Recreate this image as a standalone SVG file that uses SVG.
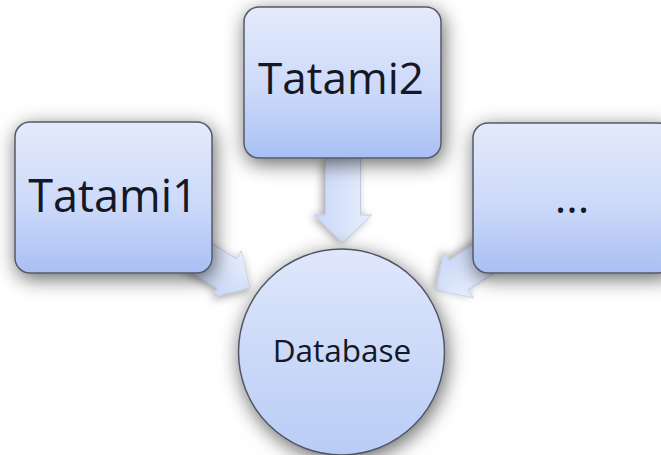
<svg xmlns="http://www.w3.org/2000/svg" width="661" height="455" viewBox="0 0 661 455">
  <defs>
    <linearGradient id="boxGrad" x1="0" y1="0" x2="0" y2="1">
      <stop offset="0" stop-color="#e4eafb"/>
      <stop offset="0.55" stop-color="#ccd9f9"/>
      <stop offset="1" stop-color="#a9bff4"/>
    </linearGradient>
    <linearGradient id="circGrad" x1="0" y1="0" x2="0" y2="1">
      <stop offset="0" stop-color="#dfe7fb"/>
      <stop offset="1" stop-color="#b9ccf6"/>
    </linearGradient>
    <linearGradient id="arrowGrad" x1="0" y1="0" x2="0" y2="1">
      <stop offset="0" stop-color="#e8eefc"/>
      <stop offset="1" stop-color="#c9d7f8"/>
    </linearGradient>
    <filter id="shadow" x="-40%" y="-40%" width="180%" height="180%">
      <feDropShadow dx="2" dy="5" stdDeviation="10" flood-color="#000" flood-opacity="0.6"/>
    </filter>
    <filter id="ashadow" x="-30%" y="-30%" width="160%" height="160%">
      <feDropShadow dx="1" dy="3" stdDeviation="4" flood-color="#000" flood-opacity="0.35"/>
    </filter>
  </defs>
  <style>
    .box { fill: url(#boxGrad); stroke: #545a6a; stroke-width: 1.5; filter: url(#shadow); }
    .circ { fill: url(#circGrad); stroke: #4f5566; stroke-width: 1.5; filter: url(#shadow); }
    .arrow { fill: url(#arrowGrad); stroke: #c0cbe6; stroke-width: 1; filter: url(#ashadow); }
    .lbl { font-family: "Open Sans", "Noto Sans", sans-serif; fill: #141826; text-anchor: middle; }
  </style>
  <rect width="661" height="455" fill="#ffffff"/>

  <g id="connectors">
    <polygon class="arrow" transform="translate(343,243) rotate(90)" points="-85,-17.5 -28,-17.5 -28,-28.5 0,0 -28,28.5 -28,17.5 -85,17.5"/>
    <polygon class="arrow" transform="translate(250,288) rotate(32)" points="-70,-17.5 -27,-17.5 -27,-27 0,0 -27,27 -27,17.5 -70,17.5"/>
    <polygon class="arrow" transform="translate(436,290) rotate(147)" points="-70,-17.5 -27,-17.5 -27,-27 0,0 -27,27 -27,17.5 -70,17.5"/>
  </g>

  <g id="database">
    <circle class="circ" cx="341.5" cy="352" r="103"/>
    <text class="lbl" x="342" y="362" font-size="31.5">Database</text>
  </g>

  <g id="tatami1">
    <rect class="box" x="15" y="122" width="197" height="151" rx="15"/>
    <text class="lbl" x="113" y="212" font-size="45">Tatami1</text>
  </g>

  <g id="tatami2">
    <rect class="box" x="244" y="7" width="197" height="151" rx="15"/>
    <text class="lbl" x="341" y="94" font-size="44">Tatami2</text>
  </g>

  <g id="more">
    <rect class="box" x="473" y="123" width="200" height="150" rx="15"/>
    <text class="lbl" x="572" y="213" font-size="44">...</text>
  </g>
</svg>
